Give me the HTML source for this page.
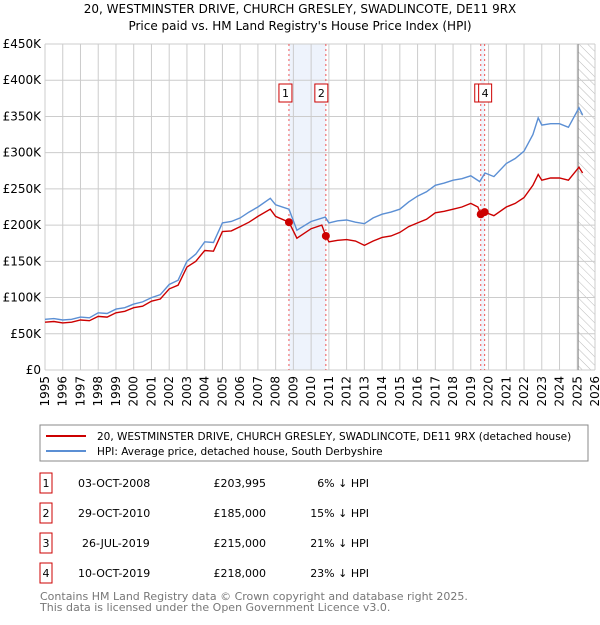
<!DOCTYPE html>
<html><head><meta charset="utf-8"><style>
body{margin:0;background:#fff;font-family:"Liberation Sans","DejaVu Sans",sans-serif;}
svg text{font-family:"DejaVu Sans","Liberation Sans",sans-serif;}
</style></head><body>
<svg id="c" width="600" height="620" xmlns="http://www.w3.org/2000/svg">
<defs><pattern id="hatch" width="6" height="6" patternUnits="userSpaceOnUse" patternTransform="rotate(-45)"><line x1="0" y1="0" x2="0" y2="6" stroke="#bbb" stroke-width="1"/></pattern></defs>
<text x="300" y="13" text-anchor="middle" font-size="12" fill="#000">20, WESTMINSTER DRIVE, CHURCH GRESLEY, SWADLINCOTE, DE11 9RX</text>
<text x="300" y="30" text-anchor="middle" font-size="12" fill="#000">Price paid vs. HM Land Registry's House Price Index (HPI)</text>
<g id="plot"></g>
<rect x="40" y="425" width="548" height="36" fill="#fff" stroke="#888"/>
<line x1="46" y1="436" x2="86" y2="436" stroke="#cc0000" stroke-width="2"/>
<text x="97" y="440" font-size="10.5">20, WESTMINSTER DRIVE, CHURCH GRESLEY, SWADLINCOTE, DE11 9RX (detached house)</text>
<line x1="46" y1="451" x2="86" y2="451" stroke="#5b8fd4" stroke-width="2"/>
<text x="97" y="455" font-size="10.5">HPI: Average price, detached house, South Derbyshire</text>
<g id="table" font-size="11"></g>
<text x="40" y="600" font-size="11" fill="#777">Contains HM Land Registry data © Crown copyright and database right 2025.</text>
<text x="40" y="611" font-size="11" fill="#777">This data is licensed under the Open Government Licence v3.0.</text>
</svg>
<script>
const hpiYears=[1995,1995.5,1996,1996.5,1997,1997.5,1998,1998.5,1999,1999.5,2000,2000.5,2001,2001.5,2002,2002.5,2003,2003.5,2004,2004.5,2005,2005.5,2006,2006.5,2007,2007.7,2008,2008.75,2009.2,2010,2010.8,2011,2011.5,2012,2012.5,2013,2013.5,2014,2014.5,2015,2015.5,2016,2016.5,2017,2017.5,2018,2018.5,2019,2019.5,2019.8,2020.3,2021,2021.5,2022,2022.5,2022.8,2023,2023.5,2024,2024.5,2025.1,2025.3];
const hpiValues=[70,71,69,70,73,72,79,78,84,86,91,94,100,104,118,124,150,160,177,176,203,205,210,218,225,237,228,222,193,205,211,203,206,207,204,202,210,215,218,222,232,240,246,255,258,262,264,268,260,272,267,285,292,302,325,348,338,340,340,335,362,352];
const redYears=[1995,1995.5,1996,1996.5,1997,1997.5,1998,1998.5,1999,1999.5,2000,2000.5,2001,2001.5,2002,2002.5,2003,2003.5,2004,2004.5,2005,2005.5,2006,2006.5,2007,2007.7,2008,2008.75,2009.2,2010,2010.6,2010.83,2011,2011.5,2012,2012.5,2013,2013.5,2014,2014.5,2015,2015.5,2016,2016.5,2017,2017.5,2018,2018.5,2019,2019.4,2019.56,2019.78,2020.3,2021,2021.5,2022,2022.5,2022.8,2023,2023.5,2024,2024.5,2025.1,2025.3];
const redValues=[66,67,65,66,69,68,74,73,79,81,86,88,95,98,112,117,142,150,165,164,191,192,198,204,212,222,212,204,182,195,200,185,177,179,180,178,172,178,183,185,190,198,203,208,217,219,222,225,230,225,215,218,213,225,230,238,255,270,262,265,265,262,280,272];
const saleYears=[2008.75,2010.83,2019.56,2019.78];
const saleValues=[204,185,215,218];
const saleLabels=["1","2","3","4"];
const yTicks=[0,50,100,150,200,250,300,350,400,450];
const yTickLabels=["£0","£50K","£100K","£150K","£200K","£250K","£300K","£350K","£400K","£450K"];
const xTicks=[];for(let y=1995;y<=2026;y++)xTicks.push(y);
const tableDates=["03-OCT-2008","29-OCT-2010","26-JUL-2019","10-OCT-2019"];
const tablePrices=["£203,995","£185,000","£215,000","£218,000"];
const tablePcts=["6% ↓ HPI","15% ↓ HPI","21% ↓ HPI","23% ↓ HPI"];
const X0=45,X1=595,Y0=370,Y1=44;
const xs=y=>X0+(y-1995)*(X1-X0)/31;
const ys=v=>Y0-v*(Y0-Y1)/450;
const NS="http://www.w3.org/2000/svg";
const plot=document.getElementById('plot');
function mk(t,a,p){const e=document.createElementNS(NS,t);for(const k in a)e.setAttribute(k,a[k]);(p||plot).appendChild(e);return e;}
let e=mk('rect',{x:xs(saleYears[0]),y:Y1,width:xs(saleYears[1])-xs(saleYears[0]),height:Y0-Y1,fill:'#eef3fc'});


e=mk('rect',{x:xs(saleYears[2]),y:Y1,width:xs(saleYears[3])-xs(saleYears[2]),height:Y0-Y1,fill:'#eef3fc'});


e=mk('rect',{x:xs(2025.05),y:Y1,width:X1-xs(2025.05),height:Y0-Y1,fill:'url(#hatch)'});


yTicks.forEach((v,i)=>{
 let l=mk('line',{x1:X0,x2:X1,y1:ys(v),y2:ys(v),stroke:'#ccc'});
 
 
 let t=mk('text',{x:X0-4,y:ys(v)+4,'text-anchor':'end','font-size':'12'});t.textContent=yTickLabels[i];
 
 
});
xTicks.forEach(y=>{
 let l=mk('line',{x1:xs(y),x2:xs(y),y1:Y1,y2:Y0,stroke:'#ccc'});
 
 
 let t=mk('text',{x:xs(y)+4,y:Y0+6,'text-anchor':'end','font-size':'12',transform:`rotate(-90 ${xs(y)+4} ${Y0+6})`});t.textContent=y;
 
 
});
e=mk('line',{x1:xs(2025.05),x2:xs(2025.05),y1:Y1,y2:Y0,stroke:'#888'});


saleYears.forEach((y,i)=>{
 let l=mk('line',{x1:xs(y),x2:xs(y),y1:Y1,y2:Y0,stroke:'#e55','stroke-dasharray':'2,3'});
 
 
});
function path(xa,va,color,name){
 const d=xa.map((y,i)=>(i?'L':'M')+xs(y).toFixed(1)+','+ys(va[i]).toFixed(1)).join('');
 const p=mk('path',{d,fill:'none',stroke:color,'stroke-width':1.4});
 
 
}
path(hpiYears,hpiValues,'#5b8fd4','hpi-line');
path(redYears,redValues,'#cc0000','property-line');
const boxOff=[-10,-11,-6,-6];
saleYears.forEach((y,i)=>{
 let c=mk('circle',{cx:xs(y),cy:ys(saleValues[i]),r:4,fill:'#cc0000'});
 
 
 const bx=xs(y)+boxOff[i];
 let r=mk('rect',{x:bx,y:84,width:13,height:18,fill:'#fff',stroke:'#cc0000'});
 
 
 let t=mk('text',{x:bx+6.5,y:97,'text-anchor':'middle','font-size':'11'});t.textContent=saleLabels[i];
 
 
});
const tb=document.getElementById('table');
[483,513,543,573].forEach((cy,i)=>{
 let r=mk('rect',{x:40,y:cy-10,width:12,height:20,fill:'#fff',stroke:'#cc0000'},tb);
 
 
 let t=mk('text',{x:46,y:cy+4,'text-anchor':'middle'},tb);t.textContent=saleLabels[i];
 
 
 t=mk('text',{x:78+(i===2?4:0),y:cy+4},tb);t.textContent=tableDates[i];
 
 
 t=mk('text',{x:266,y:cy+4,'text-anchor':'end'},tb);t.textContent=tablePrices[i];
 
 
 t=mk('text',{x:369,y:cy+4,'text-anchor':'end'},tb);t.textContent=tablePcts[i];
 
 
});
</script>
</body></html>
